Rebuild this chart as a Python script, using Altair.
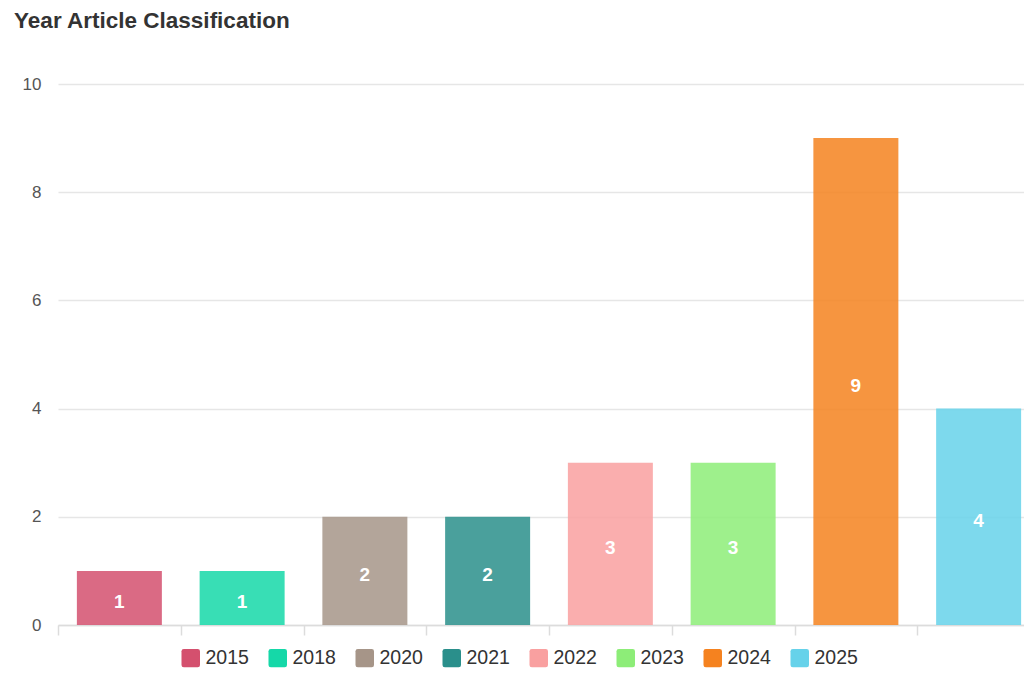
import altair as alt
import pandas as pd

years = ["2015", "2018", "2020", "2021", "2022", "2023", "2024", "2025"]
counts = [1, 1, 2, 2, 3, 3, 9, 4]
colors = ["#d4506e", "#15d8a8", "#a69588", "#2a8f8b", "#f9a0a0", "#8ded78", "#f5821f", "#66d2ea"]
y_ticks = [0, 2, 4, 6, 8, 10]

df = pd.DataFrame({"year": years, "count": counts})

rounded_square = ("M-0.75,-1 L0.75,-1 Q1,-1 1,-0.75 L1,0.75 Q1,1 0.75,1 "
                  "L-0.75,1 Q-1,1 -1,0.75 L-1,-0.75 Q-1,-1 -0.75,-1 Z")

# the category axis runs past the right edge of the view (chart is cropped there)
x_enc = alt.X(
    "year:N", sort=years,
    scale=alt.Scale(range=[0, 982], paddingInner=0, paddingOuter=0),
    axis=alt.Axis(title=None, labels=False, grid=False, tickBand="extent",
                  domainColor="#dcdcdc", tickColor="#dcdcdc", tickSize=10,
                  domainWidth=1.5, tickWidth=1.5),
)

base = alt.Chart(df)

bars = base.mark_bar(opacity=0.85, width=alt.RelativeBandSize(0.6925)).encode(
    x=x_enc,
    y=alt.Y("count:Q", scale=alt.Scale(domain=[0, 10]),
            axis=alt.Axis(title=None, values=y_ticks, domain=False, ticks=False,
                          labelPadding=17, labelFontSize=17, labelColor="#555555",
                          gridColor="#e6e6e6", gridWidth=1.5)),
    color=alt.Color("year:N", sort=years,
                    scale=alt.Scale(domain=years, range=colors),
                    legend=alt.Legend(title=None, orient="none", direction="horizontal",
                                      legendX=123, legendY=564, padding=0,
                                      symbolType=rounded_square, symbolSize=342,
                                      symbolOpacity=1, symbolStrokeWidth=0,
                                      labelFontSize=19.5, labelColor="#333333",
                                      labelOffset=5, columnPadding=19)),
)

labels = base.mark_text(color="white", fontWeight="bold", fontSize=19,
                        baseline="middle", dy=4).transform_calculate(
    mid="datum.count / 2"
).encode(
    x=alt.X("year:N", sort=years),
    y=alt.Y("mid:Q"),
    text=alt.Text("count:Q"),
)

chart = alt.layer(bars, labels).properties(
    width=966, height=541,
    title=alt.TitleParams("Year Article Classification", anchor="start", dx=-8,
                          offset=43, fontSize=22.5, fontWeight="bold", color="#333333"),
    autosize=alt.AutoSizeParams(type="none"),
    padding={"left": 50, "top": 76, "right": 0, "bottom": 44},
).configure(font="Liberation Sans").configure_view(stroke=None)

chart.save("out.html", embed_options={"renderer": "svg", "actions": False})
